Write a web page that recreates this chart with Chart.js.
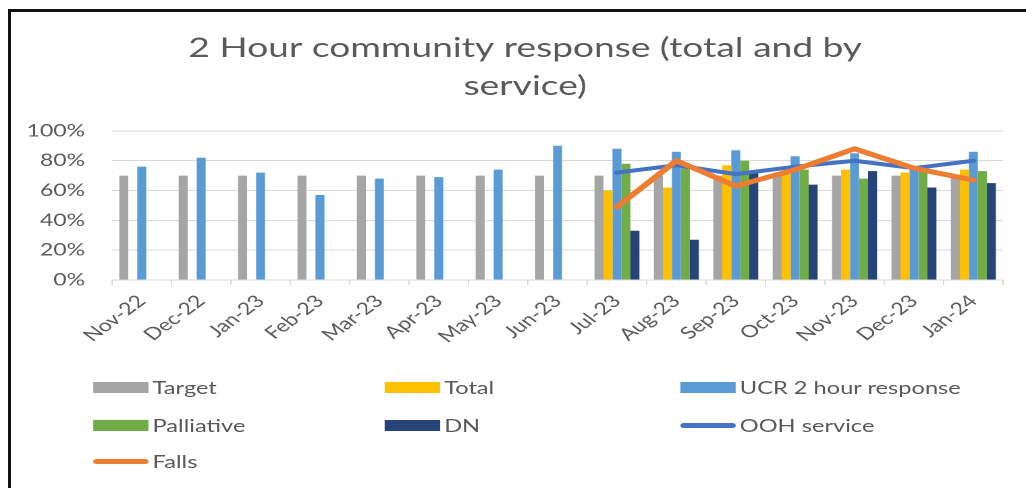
<!DOCTYPE html>
<html>
<head>
<meta charset="utf-8">
<script src="https://cdn.jsdelivr.net/npm/chart.js@4.4.1/dist/chart.umd.min.js"></script>
<style>
  html, body { margin: 0; padding: 0; background: #fff; }
  body { width: 1026px; height: 488px; overflow: hidden; position: relative; }
  #frame { position: absolute; left: 8px; top: 9px; width: 1040px; height: 500px;
           border: 3px solid #111; box-sizing: border-box; }
  /* chart drawn at a narrow width, then stretched horizontally */
  #wrap { position: absolute; left: 0; top: 0; width: 760px; height: 488px;
          transform: scaleX(1.35); transform-origin: 0 0; }
  #chart { position: absolute; left: 0; top: 0; }
  #legend { position: absolute; left: 0; top: 0; width: 760px; height: 488px;
            font-family: Lato, "Open Sans", sans-serif; font-size: 17.5px; color: #595959; }
  .item { position: absolute; height: 20px; display: flex; align-items: center; white-space: nowrap; }
  .sw { width: 41px; margin-right: 3px; }
  .sw.bar { height: 11px; }
  .sw.line { height: 5px; border-radius: 3px; }
</style>
</head>
<body>
<div id="frame"></div>
<div id="wrap">
  <canvas id="chart"></canvas>
  <div id="legend"></div>
</div>
<script>
// Monthly 2 hour community response rates (%)
const months = ['Nov-22', 'Dec-22', 'Jan-23', 'Feb-23', 'Mar-23', 'Apr-23', 'May-23', 'Jun-23',
                'Jul-23', 'Aug-23', 'Sep-23', 'Oct-23', 'Nov-23', 'Dec-23', 'Jan-24'];
const targetPct     = [70, 70, 70, 70, 70, 70, 70, 70, 70, 70, 70, 70, 70, 70, 70];
const totalPct      = [null, null, null, null, null, null, null, null, 60, 62, 77, 73, 74, 72, 74];
const ucrPct        = [76, 82, 72, 57, 68, 69, 74, 90, 88, 86, 87, 83, 85, 75, 86];
const palliativePct = [null, null, null, null, null, null, null, null, 78, 75, 80, 74, 68, 74, 73];
const dnPct         = [null, null, null, null, null, null, null, null, 33, 27, 72, 64, 73, 62, 65];
const oohPct        = [null, null, null, null, null, null, null, null, 72, 77, 71, 76, 80, 75, 80];
const fallsPct      = [null, null, null, null, null, null, null, null, 49, 80, 63, 74, 88, 75, 67];
const yTicks        = [0, 20, 40, 60, 80, 100];

const titleLines = ['2 Hour community response (total and by', 'service)'];
const textGrey = '#595959';
const gridGrey = '#d9d9d9';
const FONT = 'Lato';

function barSet(label, data, color) {
  return { type: 'bar', label, data, backgroundColor: color, borderWidth: 0,
           categoryPercentage: 0.757, barPercentage: 1.0, order: 2 };
}
function lineSet(label, data, color, width, order) {
  return { type: 'line', label, data, borderColor: color, backgroundColor: color,
           borderWidth: width, pointRadius: 0, pointHoverRadius: 0, tension: 0,
           borderJoinStyle: 'round', borderCapStyle: 'round', fill: false, order };
}

const datasets = [
  barSet('Target', targetPct, '#a5a5a5'),
  barSet('Total', totalPct, '#ffc000'),
  barSet('UCR 2 hour response', ucrPct, '#5b9bd5'),
  barSet('Palliative', palliativePct, '#70ad47'),
  barSet('DN', dnPct, '#264478'),
  lineSet('OOH service', oohPct, '#4472c4', 4, 1),
  lineSet('Falls', fallsPct, '#ed7d31', 5, 0)
];

// Nudge the title block right so it is centred over the whole frame
const titleShift = {
  id: 'titleShift',
  afterLayout(chart) {
    if (chart.titleBlock) { chart.titleBlock.left += 35; }
  }
};

const canvas = document.getElementById('chart');
canvas.width = 760; canvas.height = 372;
canvas.style.width = '760px'; canvas.style.height = '372px';

new Chart(canvas, {
  data: { labels: months, datasets },
  plugins: [titleShift],
  options: {
    responsive: false,
    animation: false,
    devicePixelRatio: 2,
    layout: { padding: { left: 0, right: 17, top: 0, bottom: 0 } },
    plugins: {
      legend: { display: false },
      tooltip: { enabled: false },
      title: {
        display: true,
        text: titleLines,
        color: textGrey,
        font: { family: FONT, size: 27.5, weight: 'normal', lineHeight: 1.38 },
        padding: { top: 29, bottom: 26 }
      }
    },
    scales: {
      x: {
        offset: true,
        grid: { offset: true, drawOnChartArea: false, drawTicks: true, tickLength: 5, color: gridGrey },
        border: { color: gridGrey, width: 1 },
        ticks: { autoSkip: false, minRotation: 45, maxRotation: 45, padding: 6,
                 color: textGrey, font: { family: FONT, size: 17 } },
        afterFit: (s) => { s.height = 372 - 280; }
      },
      y: {
        min: 0, max: 100,
        afterBuildTicks: (s) => { s.ticks = yTicks.map(v => ({ value: v })); },
        grid: { color: gridGrey, drawTicks: false },
        border: { display: false },
        ticks: { padding: 20, color: textGrey, font: { family: FONT, size: 17 },
                 callback: (v) => v + '%' },
        afterFit: (s) => { s.width = 83; }
      }
    }
  }
});

// Legend laid out in three columns below the chart
const legendCols = [69, 285, 504];
const legendRows = [387, 425, 461];
const legend = document.getElementById('legend');
datasets.forEach((ds, i) => {
  const item = document.createElement('div');
  item.className = 'item';
  item.style.left = legendCols[i % 3] + 'px';
  item.style.top = (legendRows[Math.floor(i / 3)] - 10) + 'px';
  const sw = document.createElement('span');
  sw.className = 'sw ' + (ds.type === 'line' ? 'line' : 'bar');
  sw.style.background = ds.type === 'line' ? ds.borderColor : ds.backgroundColor;
  const tx = document.createElement('span');
  tx.textContent = ds.label;
  item.appendChild(sw);
  item.appendChild(tx);
  legend.appendChild(item);
});
</script>
</body>
</html>
